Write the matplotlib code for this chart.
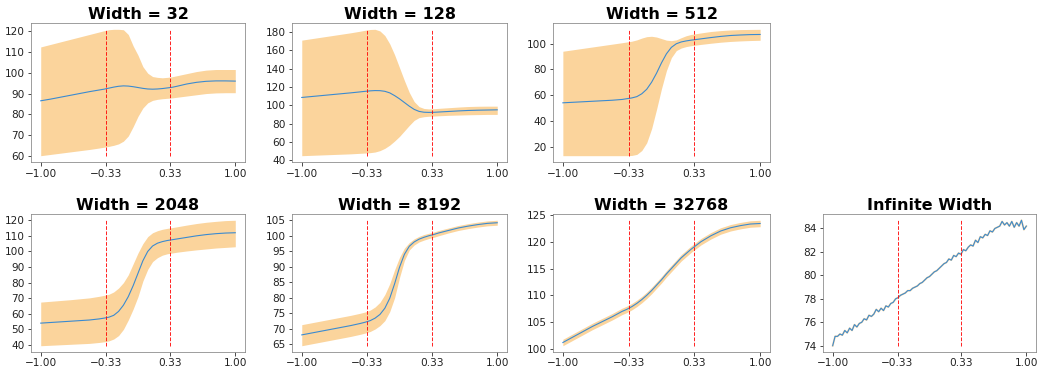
import matplotlib
matplotlib.use('Agg')
import matplotlib.pyplot as plt

# x grid shared by the finite-width panels (denser around the transition)
x_pts = [-1.0, -0.9, -0.8, -0.7, -0.6, -0.5, -0.4, -0.35, -0.3, -0.25, -0.2, -0.15,
         -0.1, -0.05, 0.0, 0.05, 0.1, 0.15, 0.2, 0.25, 0.3, 0.35, 0.4, 0.5, 0.6,
         0.7, 0.8, 0.9, 1.0]

# Width = 32
mean_32 = [86.5, 87.3, 88.2, 89.1, 90.0, 90.9, 91.7, 92.1, 92.6, 93.1, 93.5, 93.7,
           93.6, 93.3, 92.9, 92.5, 92.2, 92.1, 92.2, 92.4, 92.7, 93.0, 93.5, 94.6, 95.4,
           95.9, 96.1, 96.1, 96.0]
upper_32 = [112.5, 113.7, 114.9, 116.1, 117.3, 118.5, 119.7, 120.3, 120.8, 121.0, 121.0, 120.8,
            118.5, 113.0, 108.5, 103.0, 99.8, 98.2, 97.8, 97.6, 97.8, 98.1, 98.6, 99.6, 100.6,
            101.3, 101.6, 101.6, 101.6]
lower_32 = [60.0, 60.6, 61.2, 61.8, 62.4, 63.0, 63.7, 64.1, 64.5, 65.0, 65.7, 67.0,
            69.5, 74.0, 79.0, 83.0, 85.5, 86.7, 87.2, 87.5, 87.7, 87.9, 88.2, 88.8, 89.4,
            90.0, 90.3, 90.4, 90.4]

# Width = 128
mean_128 = [108.5, 109.5, 110.5, 111.5, 112.5, 113.5, 114.6, 115.2, 115.7, 116.0, 115.9, 115.2,
            113.5, 110.5, 107.0, 103.0, 99.0, 95.5, 93.3, 92.4, 92.2, 92.3, 92.6, 93.2, 93.8,
            94.3, 94.6, 94.8, 95.0]
upper_128 = [171.0, 172.6, 174.2, 175.8, 177.4, 179.0, 180.8, 181.8, 182.6, 182.8, 181.0, 176.0,
             167.0, 155.0, 141.0, 127.0, 114.0, 104.0, 98.5, 96.5, 96.0, 96.2, 96.6, 97.3, 98.0,
             98.6, 98.9, 99.0, 99.0]
lower_128 = [45.0, 45.4, 45.8, 46.2, 46.6, 47.0, 47.6, 47.9, 48.3, 49.0, 50.5, 53.0,
             56.5, 61.0, 66.0, 72.0, 78.0, 83.5, 86.5, 87.5, 88.0, 88.2, 88.5, 89.0, 89.3,
             89.6, 89.8, 90.0, 90.0]

# Width = 512
mean_512 = [54.0, 54.4, 54.8, 55.2, 55.6, 56.0, 56.6, 57.2, 57.8, 58.8, 61.0, 64.5,
            70.0, 77.0, 85.0, 92.0, 97.0, 99.8, 101.2, 102.0, 102.6, 103.1, 103.6, 104.6, 105.5,
            106.2, 106.6, 106.9, 107.0]
upper_512 = [94.0, 95.1, 96.2, 97.3, 98.4, 99.5, 100.6, 101.2, 101.8, 102.8, 104.2, 105.3,
             105.6, 105.0, 103.8, 102.6, 102.2, 102.8, 104.5, 106.0, 107.0, 107.6, 108.2, 109.3, 110.0,
             110.5, 110.8, 110.9, 111.0]
lower_512 = [13.0, 13.0, 13.0, 13.0, 13.0, 13.0, 13.0, 13.0, 13.2, 14.0, 17.0, 23.0,
             34.0, 49.0, 65.0, 79.0, 89.0, 94.5, 96.5, 97.6, 98.3, 98.8, 99.3, 100.2, 101.0,
             101.6, 102.0, 102.3, 102.5]

# Width = 2048
mean_2048 = [54.0, 54.4, 54.8, 55.2, 55.6, 56.0, 56.7, 57.2, 57.8, 59.0, 61.5, 65.5,
             71.0, 78.0, 86.0, 94.0, 100.0, 103.5, 105.3, 106.3, 107.0, 107.5, 108.0, 109.0, 110.0,
             110.8, 111.4, 111.8, 112.0]
upper_2048 = [67.5, 68.0, 68.5, 69.0, 69.6, 70.2, 71.2, 71.8, 72.5, 74.0, 76.5, 80.0,
              85.0, 92.0, 99.0, 105.0, 109.5, 112.0, 113.3, 114.2, 114.8, 115.3, 115.8, 116.9, 117.9,
              118.7, 119.3, 119.8, 120.0]
lower_2048 = [39.5, 39.8, 40.1, 40.4, 40.7, 41.0, 41.6, 42.0, 42.6, 43.8, 46.0, 50.0,
              56.0, 63.0, 71.0, 81.0, 88.5, 93.5, 96.0, 97.6, 98.5, 99.0, 99.5, 100.3, 101.0,
              101.6, 102.2, 102.6, 103.0]

# Width = 8192
mean_8192 = [68.0, 68.6, 69.2, 69.8, 70.4, 71.0, 71.7, 72.1, 72.6, 73.4, 74.6, 76.6,
             79.8, 84.5, 89.8, 94.0, 96.6, 98.0, 98.9, 99.5, 100.0, 100.4, 100.9, 101.7, 102.5,
             103.1, 103.6, 104.0, 104.2]
upper_8192 = [71.3, 71.9, 72.5, 73.1, 73.7, 74.3, 75.0, 75.4, 76.0, 77.0, 78.5, 81.0,
              84.5, 89.0, 93.0, 96.0, 97.8, 99.0, 99.8, 100.4, 100.8, 101.2, 101.7, 102.5, 103.3,
              103.9, 104.4, 104.8, 105.0]
lower_8192 = [64.5, 65.1, 65.7, 66.3, 66.9, 67.5, 68.2, 68.6, 69.1, 69.9, 71.0, 72.6,
              75.5, 80.0, 86.5, 92.0, 95.4, 97.0, 98.0, 98.6, 99.1, 99.5, 100.0, 100.9, 101.7,
              102.3, 102.8, 103.2, 103.4]

# Width = 32768
mean_32768 = [101.2, 102.2, 103.2, 104.2, 105.1, 106.0, 107.0, 107.4, 107.9, 108.5, 109.2, 110.0,
              110.9, 111.9, 112.9, 114.0, 115.0, 116.0, 117.0, 117.8, 118.6, 119.3, 120.0, 121.1, 122.0,
              122.6, 123.0, 123.3, 123.4]
upper_32768 = [101.8, 102.8, 103.8, 104.8, 105.7, 106.6, 107.6, 108.0, 108.5, 109.1, 109.8, 110.6,
               111.5, 112.5, 113.5, 114.6, 115.6, 116.6, 117.6, 118.4, 119.2, 119.9, 120.6, 121.7, 122.6,
               123.2, 123.6, 123.9, 124.0]
lower_32768 = [100.6, 101.6, 102.6, 103.6, 104.5, 105.4, 106.4, 106.8, 107.3, 107.9, 108.6, 109.4,
               110.3, 111.3, 112.3, 113.4, 114.4, 115.4, 116.4, 117.2, 118.0, 118.7, 119.4, 120.5, 121.4,
               122.0, 122.4, 122.7, 122.8]

# Infinite width (finer grid, noisy)
x_inf = [-1.0 + 0.025 * i for i in range(81)]
mean_inf = [74.0, 74.8, 74.8, 75.0, 74.9, 75.3, 75.1, 75.5, 75.3, 75.8,
            75.6, 75.9, 76.0, 76.3, 76.2, 76.6, 76.5, 76.7, 77.1, 76.9,
            77.2, 77.0, 77.4, 77.3, 77.6, 77.7, 78.0, 78.1, 78.3, 78.4,
            78.5, 78.7, 78.7, 78.9, 79.0, 79.1, 79.3, 79.4, 79.6, 79.8,
            79.9, 80.1, 80.3, 80.4, 80.6, 80.8, 81.0, 81.1, 81.4, 81.3,
            81.7, 81.6, 81.9, 81.8, 82.2, 82.1, 82.4, 82.6, 82.5, 83.0,
            82.8, 83.3, 83.2, 83.5, 83.4, 83.8, 83.7, 84.0, 84.1, 84.2,
            84.6, 84.3, 84.5, 84.2, 84.6, 84.1, 84.5, 84.2, 84.7, 83.9, 84.2]

xtick_pos = [-1.0, -0.33, 0.33, 1.0]
xtick_labels = ['\u22121.00', '\u22120.33', '0.33', '1.00']

yticks_32 = [60, 70, 80, 90, 100, 110, 120]
yticks_128 = [40, 60, 80, 100, 120, 140, 160, 180]
yticks_512 = [20, 40, 60, 80, 100]
yticks_2048 = [40, 50, 60, 70, 80, 90, 100, 110, 120]
yticks_8192 = [65, 70, 75, 80, 85, 90, 95, 100, 105]
yticks_32768 = [100, 105, 110, 115, 120, 125]
yticks_inf = [74, 76, 78, 80, 82, 84]

panels = [
    ('Width = 32', x_pts, mean_32, lower_32, upper_32, yticks_32, (31, 23, 245, 162)),
    ('Width = 128', x_pts, mean_128, lower_128, upper_128, yticks_128, (292, 23, 507, 162)),
    ('Width = 512', x_pts, mean_512, lower_512, upper_512, yticks_512, (553, 23, 770, 162)),
    ('Width = 2048', x_pts, mean_2048, lower_2048, upper_2048, yticks_2048, (31, 214, 245, 352)),
    ('Width = 8192', x_pts, mean_8192, lower_8192, upper_8192, yticks_8192, (292, 214, 507, 352)),
    ('Width = 32768', x_pts, mean_32768, lower_32768, upper_32768, yticks_32768, (553, 214, 770, 352)),
    ('Infinite Width', x_inf, mean_inf, None, None, yticks_inf, (823, 214, 1036, 352)),
]

W, H = 1039, 368
fig = plt.figure(figsize=(W / 72, H / 72), dpi=72)
band_color = '#fbd49c'

for title, xs, mean, lower, upper, yt, (l, t, r, b) in panels:
    ax = fig.add_axes([l / W, 1 - b / H, (r - l) / W, (b - t) / H])
    if lower is not None:
        ax.fill_between(xs, lower, upper, color=band_color, linewidth=0)
        lo, hi = min(lower), max(upper)
    else:
        # the infinite-width band is so thin it only shows as a halo under the line
        ax.plot(xs, mean, color='#fbd49c', linewidth=1.8)
        lo, hi = min(mean), max(mean)
    ax.plot(xs, mean, color='#3a8ad0', linewidth=1.1)
    for xv in (-0.33, 0.33):
        ax.plot([xv, xv], [lo, hi], '--', color='red', alpha=0.85, linewidth=1)
    ax.set_xticks(xtick_pos)
    ax.set_xticklabels(xtick_labels)
    ax.set_yticks(yt)
    ax.tick_params(labelsize=10.5, colors='#222222', length=3.5, pad=3)
    for s in ax.spines.values():
        s.set_color('#888888')
    ax.set_title(title, fontsize=16, fontweight='bold', pad=4)

fig.savefig('out.png', dpi=72)
